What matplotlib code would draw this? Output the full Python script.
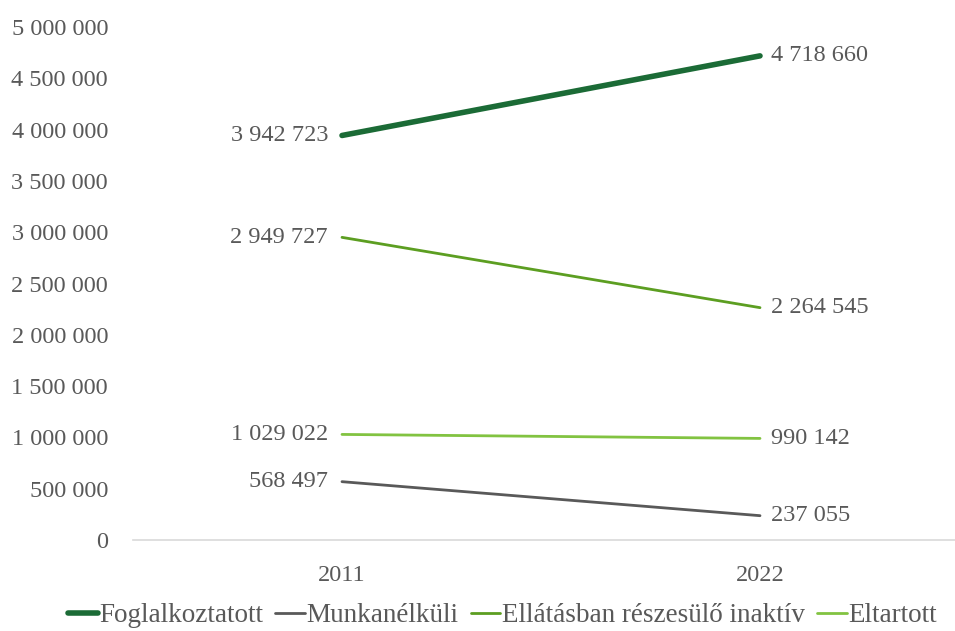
import matplotlib.pyplot as plt
from matplotlib.ticker import FuncFormatter

years = ['2011', '2022']
series_names = ['Foglalkoztatott', 'Munkanélküli', 'Ellátásban részesülő inaktív', 'Eltartott']
foglalkoztatott = [3942723, 4718660]
munkanelkuli = [568497, 237055]
ellatasban = [2949727, 2264545]
eltartott = [1029022, 990142]

colors = ['#1b6b36', '#595959', '#5c9e21', '#82c341']
widths = [4.0, 2.0, 2.0, 2.0]
text_color = '#595959'

plt.rcParams['font.family'] = ['Liberation Serif', 'DejaVu Serif']

def fmt(v):
    return f'{int(v):,}'.replace(',', ' ')

fig = plt.figure(figsize=(9.55, 6.31), dpi=100)
ax = fig.add_axes([133 / 955, 91 / 631, 822 / 955, 513 / 631])

x = list(range(len(years)))
all_series = [foglalkoztatott, munkanelkuli, ellatasban, eltartott]
for name, vals, c, lw in zip(series_names, all_series, colors, widths):
    ax.plot(x, vals, color=c, lw=lw, label=name, solid_capstyle='round')
    ax.annotate(fmt(vals[0]), (x[0], vals[0]), xytext=(-10, 0), textcoords='offset points',
                ha='right', va='center', fontsize=17.5, color=text_color)
    ax.annotate(fmt(vals[1]), (x[1], vals[1]), xytext=(8, 0), textcoords='offset points',
                ha='left', va='center', fontsize=17.5, color=text_color)

ax.set_xlim(-0.5, 1.4665)
ax.set_ylim(0, 5000000)
ax.set_yticks(range(0, 5000001, 500000))
ax.yaxis.set_major_formatter(FuncFormatter(lambda v, p: fmt(v)))
ax.set_xticks(x)
ax.set_xticklabels(years)
ax.tick_params(axis='both', length=0, labelsize=17.5, labelcolor=text_color)
ax.tick_params(axis='x', pad=18)
ax.tick_params(axis='y', pad=18)

for s in ['top', 'right', 'left']:
    ax.spines[s].set_visible(False)
ax.spines['bottom'].set_color('#d9d9d9')
ax.spines['bottom'].set_linewidth(1.2)

leg = fig.legend(loc='center', bbox_to_anchor=(0.526, 15 / 631), ncol=4, frameon=False,
                 fontsize=19.5, handlelength=1.1, handletextpad=0.05, columnspacing=0.45,
                 labelcolor=text_color)

fig.savefig('out.png', dpi=100)
